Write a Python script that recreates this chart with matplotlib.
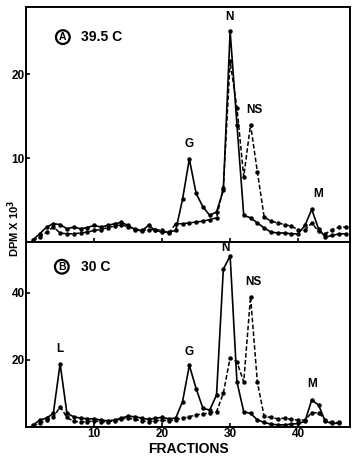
import numpy as np
import matplotlib
matplotlib.use('Agg')
import matplotlib.pyplot as plt

plt.rcParams['font.family'] = ['Liberation Sans', 'DejaVu Sans']
plt.rcParams['font.weight'] = 'bold'

# 39.5 C 面板数据 (fractions 1..47)
frac_a = np.arange(1, 48)
solid_a = [0.3, 1.0, 1.8, 2.2, 2.1, 1.6, 1.8, 1.6, 1.75, 2.0,
           1.8, 2.0, 2.2, 2.35, 2.0, 1.5, 1.35, 2.0, 1.4, 1.2,
           1.2, 1.4, 5.1, 9.9, 5.8, 4.2, 3.2, 3.6, 6.2, 25.1,
           14.0, 3.2, 2.9, 2.3, 1.7, 1.2, 1.1, 1.1, 1.0, 1.0,
           2.0, 3.9, 1.6, 0.6, 0.8, 1.0, 1.0]
dash_a = [0.2, 0.6, 1.2, 1.8, 1.1, 1.0, 1.0, 1.1, 1.2, 1.4,
          1.5, 1.75, 1.9, 2.1, 1.8, 1.6, 1.4, 1.5, 1.5, 1.4,
          1.1, 2.2, 2.2, 2.3, 2.4, 2.5, 2.7, 2.9, 6.5, 21.5,
          16.0, 7.8, 14.0, 8.4, 3.0, 2.5, 2.3, 2.1, 1.9, 1.5,
          1.4, 2.3, 1.3, 1.0, 1.5, 1.8, 1.8]

# 30 C 面板数据 (fractions 1..46)
frac_b = np.arange(1, 47)
solid_b = [0.5, 2.0, 2.6, 4.0, 18.8, 4.0, 3.0, 2.6, 2.4, 2.4,
           2.0, 1.8, 2.0, 2.6, 3.2, 3.0, 2.6, 2.2, 2.6, 2.8,
           2.4, 2.6, 7.5, 18.3, 11.4, 5.5, 5.0, 9.5, 47.0, 50.9,
           13.4, 4.5, 4.0, 2.1, 1.3, 0.8, 0.6, 0.6, 0.8, 1.0,
           1.6, 8.0, 6.5, 1.6, 1.0, 1.1]
dash_b = [0.3, 1.0, 2.0, 2.8, 6.0, 2.8, 1.6, 1.5, 1.5, 1.8,
          1.5, 1.5, 1.8, 2.4, 2.6, 2.2, 1.8, 1.5, 1.8, 2.0,
          1.8, 2.1, 2.6, 3.0, 3.6, 3.8, 4.2, 4.5, 10.0, 20.6,
          19.3, 13.4, 38.8, 13.4, 3.1, 2.8, 2.4, 2.6, 2.2, 2.0,
          2.0, 4.2, 4.2, 2.1, 1.3, 1.3]

# 峰标签
peaks_a = [('G', 24, 11.0), ('N', 29.9, 26.1), ('NS', 33.5, 15.0), ('M', 42.9, 5.0)]
peaks_b = [('L', 5, 21.5), ('G', 24, 20.5), ('N', 29.3, 51.5), ('NS', 33.4, 41.5), ('M', 42.1, 11.0)]

fig = plt.figure(figsize=(3.53, 4.57), dpi=100)
ax_a = fig.add_axes([0.074, 0.470, 0.917, 0.515])
ax_b = fig.add_axes([0.074, 0.066, 0.917, 0.404])

for ax, f, s, d, ylim, yt, peaks, letter, temp, lpos in [
        (ax_a, frac_a, solid_a, dash_a, 28, [10, 20], peaks_a, 'A', '39.5 C', (5.4, 24.4, 8.0)),
        (ax_b, frac_b, solid_b, dash_b, 55, [20, 40], peaks_b, 'B', '30 C', (5.25, 47.7, 8.1))]:
    ax.plot(f, s, '-', color='black', lw=1.2, marker='o', ms=2.2)
    ax.plot(f, d, '--', color='black', lw=1.1, marker='o', ms=2.2, dashes=(3, 1.5))
    ax.set_xlim(0, 47.6)
    ax.set_ylim(0, ylim)
    ax.set_yticks(yt)
    ax.set_xticks([10, 20, 30, 40])
    ax.tick_params(direction='in', length=3, width=1.2, labelsize=8.5, pad=1)
    for sp in ax.spines.values():
        sp.set_linewidth(1.4)
    for lab, x, y in peaks:
        ax.text(x, y, lab, ha='center', va='bottom', fontsize=8.5, fontweight='bold')
    ax.text(lpos[0], lpos[1], letter, ha='center', va='center', fontsize=7.5, fontweight='bold',
            bbox=dict(boxstyle='circle,pad=0.18', fc='white', ec='black', lw=1.6))
    ax.text(lpos[2], lpos[1], temp, ha='left', va='center', fontsize=10, fontweight='bold')

ax_a.tick_params(labelbottom=False)
ax_b.set_xlabel('FRACTIONS', fontsize=10, fontweight='bold', labelpad=1)
fig.text(0.040, 0.50, 'DPM X 10$^{3}$', rotation=90, ha='center', va='center',
         fontsize=8, fontweight='bold')

fig.savefig('out.png', dpi=100)
